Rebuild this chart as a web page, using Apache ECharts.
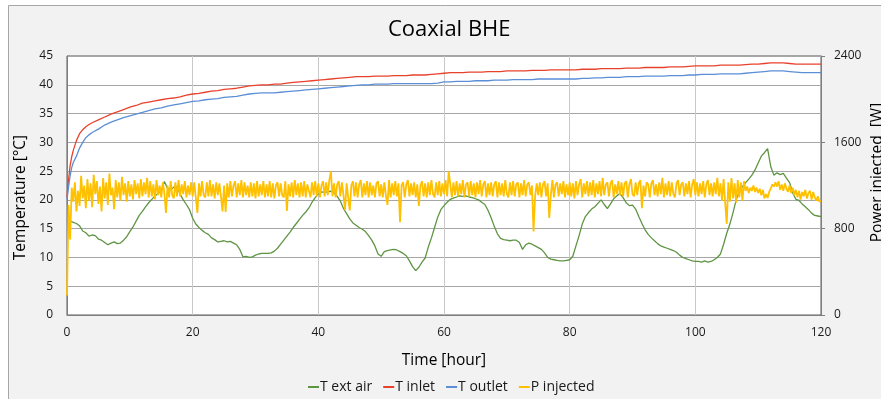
<!DOCTYPE html>
<html>
<head>
<meta charset="utf-8">
<title>Coaxial BHE</title>
<script src="https://cdn.jsdelivr.net/npm/echarts@6/dist/echarts.min.js"></script>
<style>
  html, body { margin: 0; padding: 0; background: #ffffff; }
  #chart { width: 881px; height: 399px; }
</style>
</head>
<body>
<div id="chart"></div>
<script>
// ---- Data -------------------------------------------------------------
const chartTitle = 'Coaxial BHE';
const seriesNames = ['T ext air', 'T inlet', 'T outlet', 'P injected'];
const xTicks = { min: 0, max: 120, step: 20 };
const tempTicks = { min: 0, max: 45, step: 5 };
const powerTicks = { min: 0, max: 2400, step: 800 };

// Fluid temperatures (°C), sampled more densely during the start-up
const tempHours = [0, 0.25, 0.5, 0.75, 1, 1.5, 2, 2.5, 3, 3.5, 4,
  5, 6, 7, 8, 9, 10, 11, 12, 13, 14,
  15, 16, 17, 18, 19, 20, 21, 22, 23, 24,
  25, 26, 27, 28, 29, 30, 31, 32, 33, 34,
  35, 36, 37, 38, 39, 40, 41, 42, 43, 44,
  45, 46, 47, 48, 49, 50, 51, 52, 53, 54,
  55, 56, 57, 58, 59, 60, 61, 62, 63, 64,
  65, 66, 67, 68, 69, 70, 71, 72, 73, 74,
  75, 76, 77, 78, 79, 80, 81, 82, 83, 84,
  85, 86, 87, 88, 89, 90, 91, 92, 93, 94,
  95, 96, 97, 98, 99, 100, 101, 102, 103, 104,
  105, 106, 107, 108, 109, 110, 111, 112, 113, 114,
  115, 116, 117, 118, 119, 120];

const tInlet = [20.5, 23.5, 26.0, 27.5, 28.6, 30.3, 31.5, 32.2, 32.7, 33.1, 33.4,
  33.9, 34.4, 34.9, 35.3, 35.7, 36.1, 36.4, 36.8, 37.0, 37.2,
  37.4, 37.6, 37.7, 37.9, 38.2, 38.4, 38.5, 38.7, 38.9, 39.0,
  39.2, 39.3, 39.4, 39.6, 39.8, 39.9, 40.0, 40.0, 40.1, 40.1,
  40.3, 40.4, 40.5, 40.6, 40.7, 40.8, 40.9, 41.0, 41.1, 41.2,
  41.3, 41.4, 41.4, 41.4, 41.5, 41.5, 41.5, 41.6, 41.6, 41.6,
  41.7, 41.7, 41.7, 41.8, 41.9, 42.0, 42.1, 42.1, 42.1, 42.2,
  42.2, 42.2, 42.3, 42.3, 42.3, 42.4, 42.4, 42.4, 42.4, 42.5,
  42.5, 42.5, 42.6, 42.6, 42.6, 42.6, 42.6, 42.7, 42.7, 42.7,
  42.8, 42.8, 42.8, 42.8, 42.9, 42.9, 42.9, 43.0, 43.0, 43.0,
  43.0, 43.1, 43.1, 43.1, 43.2, 43.3, 43.3, 43.3, 43.3, 43.4,
  43.4, 43.4, 43.4, 43.5, 43.6, 43.6, 43.7, 43.8, 43.8, 43.8,
  43.7, 43.6, 43.6, 43.6, 43.6, 43.6];

const tOutlet = [20.0, 22.3, 24.2, 25.6, 26.5, 27.6, 29.0, 30.0, 30.8, 31.3, 31.7,
  32.3, 33.0, 33.5, 33.9, 34.3, 34.6, 34.9, 35.2, 35.5, 35.8,
  36.0, 36.3, 36.5, 36.7, 36.9, 37.1, 37.2, 37.4, 37.5, 37.6,
  37.8, 37.9, 38.0, 38.2, 38.4, 38.5, 38.6, 38.6, 38.6, 38.7,
  38.8, 38.9, 39.0, 39.1, 39.2, 39.3, 39.4, 39.5, 39.6, 39.7,
  39.8, 39.9, 40.0, 40.0, 40.1, 40.1, 40.1, 40.2, 40.2, 40.2,
  40.2, 40.2, 40.2, 40.2, 40.3, 40.5, 40.5, 40.6, 40.6, 40.6,
  40.7, 40.7, 40.7, 40.8, 40.8, 40.8, 40.9, 40.9, 40.9, 40.9,
  41.0, 41.0, 41.0, 41.0, 41.0, 41.0, 41.0, 41.1, 41.1, 41.2,
  41.2, 41.3, 41.3, 41.3, 41.4, 41.4, 41.4, 41.5, 41.5, 41.5,
  41.5, 41.6, 41.6, 41.6, 41.7, 41.7, 41.8, 41.8, 41.8, 41.9,
  41.9, 41.9, 41.9, 42.0, 42.1, 42.2, 42.3, 42.4, 42.4, 42.4,
  42.3, 42.2, 42.1, 42.1, 42.1, 42.1];

// Outdoor air temperature (°C), every half hour from 0 h
const airStep = 0.5;
const tExtAir = [
  16.5, 16.3, 16.1, 15.9, 15.5, 14.6, 14.3, 13.7, 13.9, 13.8,
  13.2, 13.0, 12.6, 12.2, 12.5, 12.7, 12.4, 12.5, 13.0, 13.6,
  14.5, 15.3, 16.3, 17.3, 18.0, 18.8, 19.5, 20.1, 20.7, 21.1,
  21.6, 23.2, 22.0, 21.8, 22.2, 22.3, 21.0, 20.0, 19.2, 18.3,
  16.8, 15.8, 15.2, 14.7, 14.3, 14.0, 13.4, 13.1, 12.7, 12.8,
  12.9, 12.7, 12.8, 12.5, 12.2, 11.4, 10.1, 10.2, 10.0, 10.1,
  10.4, 10.6, 10.7, 10.7, 10.7, 10.8, 11.1, 11.6, 12.3, 13.0,
  13.7, 14.4, 15.2, 15.9, 16.6, 17.3, 17.9, 18.6, 19.6, 20.4,
  21.0, 21.4, 21.3, 21.4, 21.5, 21.2, 20.6, 19.8, 18.5, 17.6,
  16.7, 16.0, 15.6, 15.2, 14.9, 14.5, 13.8, 13.0, 12.0, 10.6,
  10.2, 11.0, 11.2, 11.3, 11.4, 11.3, 11.0, 10.7, 10.3, 9.4,
  8.4, 7.7, 8.3, 9.2, 9.9, 11.8, 13.4, 15.2, 17.0, 18.3,
  19.0, 19.6, 20.1, 20.3, 20.5, 20.7, 20.6, 20.7, 20.5, 20.4,
  20.2, 20.0, 19.6, 19.2, 18.2, 16.9, 15.4, 14.1, 13.3, 13.1,
  13.0, 12.9, 13.0, 13.0, 12.6, 11.4, 12.2, 12.5, 12.3, 12.0,
  11.7, 11.4, 10.8, 10.0, 9.7, 9.6, 9.5, 9.4, 9.4, 9.5,
  9.6, 10.2, 12.0, 13.8, 15.8, 17.1, 17.8, 18.4, 18.8, 19.4,
  20.0, 19.2, 18.5, 19.3, 20.2, 20.7, 21.1, 20.4, 19.5, 19.0,
  19.1, 18.4, 17.1, 15.9, 14.8, 14.0, 13.4, 12.9, 12.4, 12.0,
  11.8, 11.6, 11.4, 11.2, 10.9, 10.4, 10.0, 9.8, 9.6, 9.4,
  9.3, 9.3, 9.2, 9.4, 9.2, 9.3, 9.6, 10.0, 10.6, 12.3,
  14.2, 15.8, 17.8, 20.0, 21.5, 22.3, 23.0, 23.6, 24.3, 25.2,
  26.4, 27.6, 28.2, 28.9, 25.8, 24.3, 24.7, 24.4, 24.6, 23.8,
  23.0, 21.2, 20.1, 19.9, 19.3, 18.8, 18.3, 17.7, 17.3, 17.2,
  17.1];

// Injected thermal power (W), every quarter hour from 0 h
const powerStep = 0.25;
const pInjected = [
  180, 1020, 700, 1180, 1050, 1230, 960, 1150, 1010, 1290, 1080, 1200, 990, 1260, 1060, 1220,
  1000, 1300, 1120, 1240, 1030, 1190, 960, 1270, 1080, 1230, 1020, 1310, 1110, 1180, 980, 1250,
  1090, 1230, 1060, 1280, 1110, 1220, 1050, 1240, 1100, 1210, 1070, 1250, 1120, 1220, 1080, 1260,
  1100, 1230, 1120, 1270, 1090, 1240, 1100, 1210, 1070, 1250, 1110, 1200, 1090, 1230, 1130, 945,
  1200, 1090, 1240, 1110, 1080, 1230, 1100, 1250, 1100, 1210, 1120, 1240, 1090, 1200, 1110, 1230,
  1100, 1230, 1090, 945, 1220, 1100, 1240, 1110, 1090, 1230, 1100, 1250, 1100, 1210, 1080, 1230,
  1110, 1220, 1100, 960, 1200, 955, 1220, 1090, 1240, 1100, 1200, 1240, 1090, 1220, 1110, 1250,
  1090, 1230, 1110, 1200, 1090, 1230, 1100, 1220, 1080, 1240, 1100, 1210, 1110, 1240, 1090, 1210,
  1100, 1240, 1090, 1220, 1080, 1200, 1230, 1100, 1220, 1110, 1090, 1240, 965, 1210, 1100, 1230,
  1090, 1250, 1110, 1220, 1090, 1230, 1100, 1240, 1090, 1210, 1220, 1090, 1230, 1110, 1240, 1100,
  1220, 1090, 1200, 1240, 1100, 1230, 1110, 1250, 1330, 1100, 1220, 1090, 1210, 1240, 1100, 1230,
  1110, 975, 1220, 1090, 970, 1200, 1240, 1100, 1230, 1090, 1210, 1250, 1090, 1220, 1110, 1240,
  1090, 1230, 1110, 1200, 1090, 1220, 1240, 1100, 1210, 1090, 1230, 1110, 1020, 1250, 1090, 1220,
  1110, 1240, 1100, 1220, 860, 1200, 1230, 1090, 1210, 1250, 1100, 1220, 1110, 1230, 1090, 1210,
  1010, 1200, 1240, 1100, 1220, 1090, 1230, 1110, 1250, 1120, 1090, 1230, 1110, 1240, 1100, 1220,
  1120, 1250, 1100, 1330, 1210, 1090, 1230, 1110, 1240, 1100, 1220, 1120, 1250, 1090, 1210, 1230,
  1100, 1240, 1110, 1220, 1090, 1230, 1120, 1250, 1100, 1210, 1240, 1090, 1220, 1110, 1230, 1100,
  1210, 1240, 1090, 1230, 1110, 1220, 1100, 1250, 1120, 1090, 1230, 1110, 1240, 1100, 1210, 1230,
  1090, 1220, 1110, 1250, 1100, 1210, 1230, 1110, 1200, 775, 1100, 1220, 1110, 1230, 1090, 1210,
  1240, 1100, 1220, 900, 1110, 1250, 1090, 1210, 1230, 1100, 1220, 1120, 1240, 1090, 1210, 1110,
  1230, 1100, 1220, 1080, 1240, 1110, 1210, 1260, 1090, 1220, 1120, 1240, 1100, 1230, 1110, 1250,
  1090, 1220, 1120, 1240, 1100, 1270, 1110, 1210, 1230, 1100, 1220, 1250, 1090, 1210, 1120, 1240,
  1110, 1230, 1100, 1220, 1240, 1090, 1210, 1260, 1120, 1100, 1230, 1110, 1220, 1250, 990, 1200,
  1100, 1230, 1210, 1090, 1220, 1250, 1110, 1210, 1100, 1230, 1120, 1270, 1090, 1220, 1110, 1240,
  1100, 1230, 1120, 1090, 1220, 1250, 1110, 1210, 1230, 1100, 1220, 1120, 1240, 1090, 1210, 1260,
  1110, 1230, 1100, 1220, 1120, 1240, 1090, 1210, 1250, 1110, 1220, 1100, 1230, 1120, 1270, 1100,
  1220, 1060, 1260, 1040, 845, 1230, 1050, 1270, 1080, 1220, 1040, 1250, 1090, 1230, 1060, 1240,
  1150, 1190, 1130, 1180, 1150, 1200, 1140, 1180, 1130, 1170, 1110, 1160, 1080, 1120, 1085, 1140,
  1170, 1210, 1190, 1230, 1190, 1240, 1160, 1210, 1150, 1220, 1170, 1140, 1200, 1130, 1180, 1110,
  1160, 1090, 1150, 1070, 1140, 1100, 1160, 1080, 1130, 1150, 1070, 1140, 1090, 1060, 1100, 1050,
  1060];

// ---- Build [hour, value] pairs --------------------------------------
const pairs = (hours, values) => values.map((v, i) => [hours[i], v]);
const stepPairs = (step, values) => values.map((v, i) => [i * step, v]);

const colors = {
  air: '#5e9543',
  inlet: '#e8412c',
  outlet: '#5b8ed6',
  power: '#ffc000'
};

const FONT = '"Open Sans", "Liberation Sans", "DejaVu Sans", sans-serif';
const TEXT = '#1a1a1a';

const chart = echarts.init(document.getElementById('chart'), null, { renderer: 'canvas' });

chart.setOption({
  animation: false,
  textStyle: { fontFamily: FONT },
  graphic: [{
    type: 'rect',
    z: -10,
    silent: true,
    shape: { x: 8.5, y: 5.5, width: 900, height: 420 },
    style: { fill: '#f2f2f2', stroke: '#a6a6a6', lineWidth: 1 }
  }],
  title: {
    text: chartTitle,
    left: 383,
    top: 14,
    textStyle: { fontFamily: FONT, fontSize: 22, fontWeight: 'normal', color: '#000000' }
  },
  legend: {
    left: 303,
    top: 375,
    icon: 'rect',
    itemWidth: 11,
    itemHeight: 2,
    itemGap: 11,
    data: seriesNames,
    textStyle: { fontFamily: FONT, fontSize: 14, color: TEXT, padding: [0, 0, 0, -4] }
  },
  grid: {
    left: 67,
    right: 60,
    top: 56,
    bottom: 84,
    outerBoundsMode: 'none',
    containLabel: false,
    show: true,
    backgroundColor: '#ffffff',
    borderColor: '#595959',
    borderWidth: 1
  },
  xAxis: {
    type: 'value',
    min: xTicks.min,
    max: xTicks.max,
    interval: xTicks.step,
    name: 'Time [hour]',
    nameLocation: 'middle',
    nameGap: 38,
    nameTextStyle: { fontFamily: FONT, fontSize: 15.5, color: '#000000' },
    axisLine: { lineStyle: { color: '#7f7f7f' } },
    axisTick: { show: false },
    axisLabel: { fontFamily: FONT, fontSize: 12, color: TEXT, margin: 12 },
    splitLine: { show: true, lineStyle: { color: '#c8c8c8', width: 1 } }
  },
  yAxis: [{
    type: 'value',
    position: 'left',
    min: tempTicks.min,
    max: tempTicks.max,
    interval: tempTicks.step,
    name: 'Temperature [°C]',
    nameLocation: 'middle',
    nameRotate: 90,
    nameGap: 34,
    nameTextStyle: { fontFamily: FONT, fontSize: 15.5, color: '#000000', padding: [0, 24, 0, 0] },
    axisLine: { show: true, lineStyle: { color: '#7f7f7f' } },
    axisTick: { show: false },
    axisLabel: { fontFamily: FONT, fontSize: 12, color: TEXT, margin: 14 },
    splitLine: { show: true, lineStyle: { color: '#a6a6a6', width: 1 } }
  }, {
    type: 'value',
    position: 'right',
    min: powerTicks.min,
    max: powerTicks.max,
    interval: powerTicks.step,
    name: 'Power injected  [W]',
    nameLocation: 'middle',
    nameRotate: 90,
    nameGap: 49,
    nameMoveOverlap: false,
    nameTextStyle: { fontFamily: FONT, fontSize: 15.5, color: '#000000', padding: [0, 0, 0, 26] },
    axisLine: { show: true, lineStyle: { color: '#7f7f7f' } },
    axisTick: { show: true, inside: false, length: 4, lineStyle: { color: '#7f7f7f' } },
    axisLabel: { fontFamily: FONT, fontSize: 12, color: TEXT, margin: 13, formatter: (v) => String(v) },
    splitLine: { show: false }
  }],
  series: [{
    name: seriesNames[0],
    type: 'line',
    yAxisIndex: 0,
    data: stepPairs(airStep, tExtAir),
    symbol: 'none',
    color: colors.air,
    lineStyle: { width: 1.3, color: colors.air }
  }, {
    name: seriesNames[1],
    type: 'line',
    yAxisIndex: 0,
    data: pairs(tempHours, tInlet),
    symbol: 'none',
    color: colors.inlet,
    lineStyle: { width: 1.3, color: colors.inlet }
  }, {
    name: seriesNames[2],
    type: 'line',
    yAxisIndex: 0,
    data: pairs(tempHours, tOutlet),
    symbol: 'none',
    color: colors.outlet,
    lineStyle: { width: 1.3, color: colors.outlet }
  }, {
    name: seriesNames[3],
    type: 'line',
    yAxisIndex: 1,
    data: stepPairs(powerStep, pInjected),
    symbol: 'none',
    color: colors.power,
    lineStyle: { width: 1.8, color: colors.power }
  }]
});
</script>
</body>
</html>
